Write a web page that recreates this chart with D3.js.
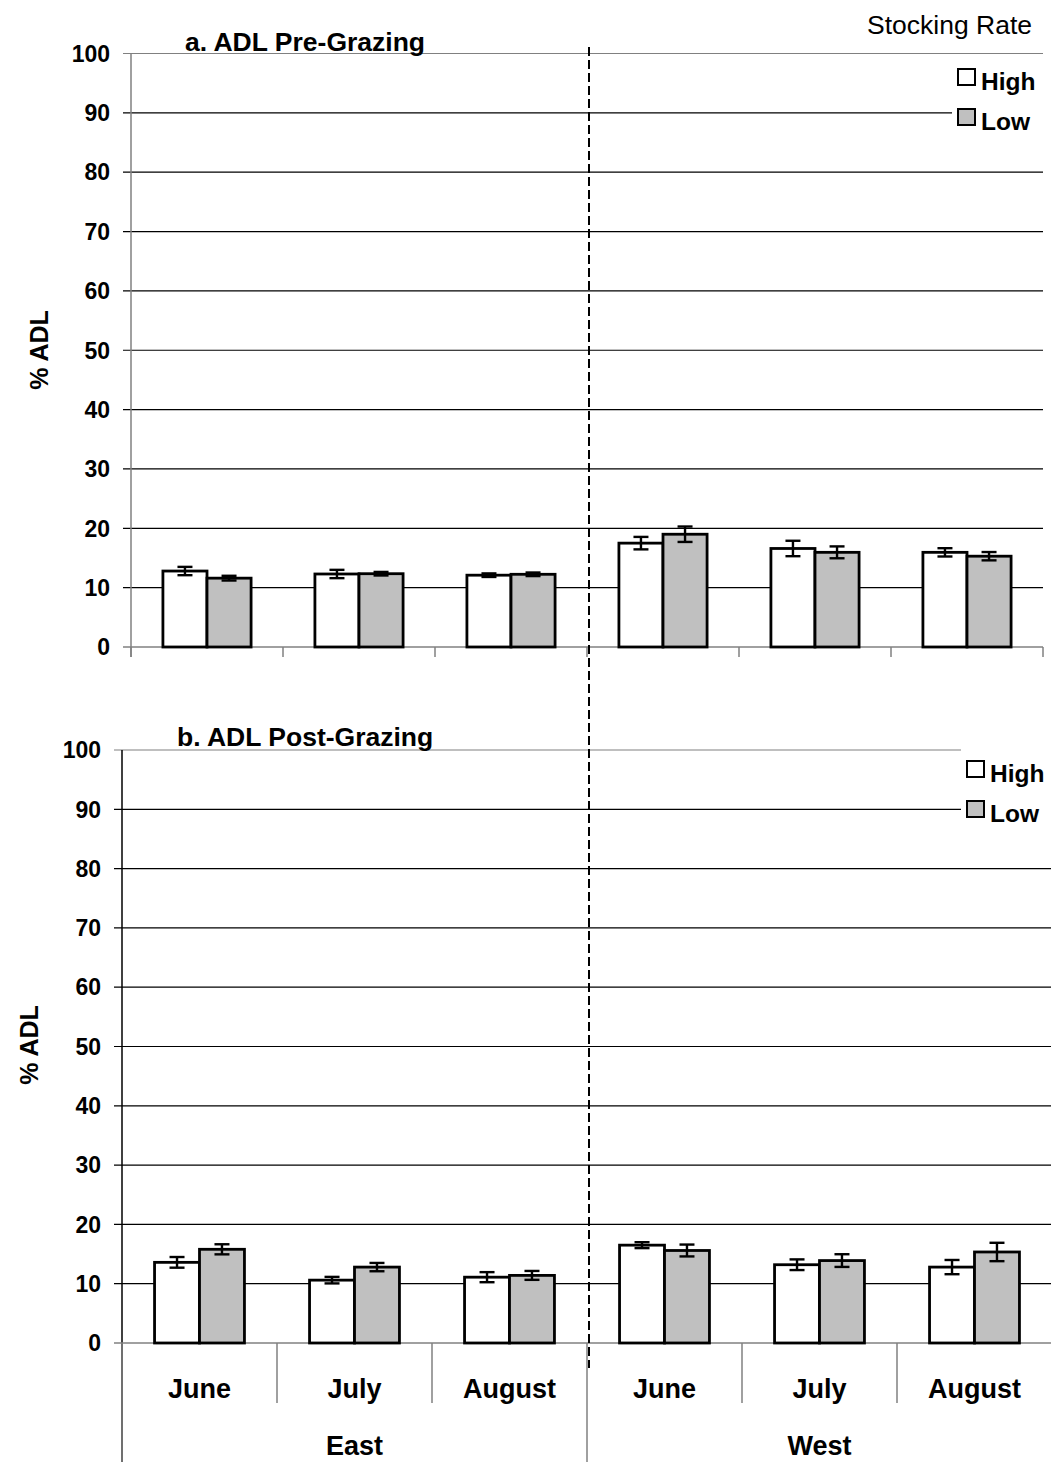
<!DOCTYPE html>
<html>
<head>
<meta charset="utf-8">
<script src="https://cdn.jsdelivr.net/npm/d3@7"></script>
<style>
  body { margin: 0; background: #fff; }
  text { font-family: "Liberation Sans", Arial, sans-serif; }
</style>
</head>
<body>
<div id="chart"></div>
<script>
// categories
var months = ["June", "July", "August"]
var sites = ["East", "West"]
var series = ["High", "Low"]
var yTicks = [0, 10, 20, 30, 40, 50, 60, 70, 80, 90, 100]

// a. pre-grazing (East June..August, West June..August)
var preHigh = [12.8, 12.3, 12.1, 17.5, 16.6, 15.95]
var preHighErr = [0.7, 0.7, 0.3, 1.05, 1.3, 0.7]
var preLow = [11.6, 12.35, 12.25, 19.0, 15.95, 15.3]
var preLowErr = [0.4, 0.3, 0.3, 1.3, 1.0, 0.7]

// b. post-grazing
var postHigh = [13.6, 10.6, 11.1, 16.5, 13.2, 12.8]
var postHighErr = [0.9, 0.55, 0.85, 0.5, 0.9, 1.2]
var postLow = [15.8, 12.8, 11.4, 15.6, 13.9, 15.35]
var postLowErr = [0.85, 0.7, 0.75, 1.0, 1.07, 1.55]

var W = 1051, H = 1462
var fills = {High: "#ffffff", Low: "#c0c0c0"}

var svg = d3.select("#chart").append("svg")
    .attr("width", W)
    .attr("height", H)

// categories East/June ... West/August
var cats = []
sites.forEach(function (s) {
    months.forEach(function (m) { cats.push(s + "|" + m) })
})

function drawPanel(p) {
    var y = d3.scaleLinear().domain([0, 100]).range([p.y0, p.y100])
    var x = d3.scaleBand().domain(cats).range([p.xl, p.xr])
        .paddingInner(0.42).paddingOuter(0.21)
    var xs = d3.scaleBand().domain(series).range([0, x.bandwidth()])

    var rows = cats.map(function (c, i) {
        return {
            cat: c,
            vals: [
                {s: "High", v: p.high[i], e: p.highErr[i]},
                {s: "Low", v: p.low[i], e: p.lowErr[i]}
            ]
        }
    })

    // gridlines
    svg.append("g").selectAll("line")
        .data(yTicks.filter(function (d) { return d > 0 }))
        .enter().append("line")
        .attr("x1", p.axisX - 8)
        .attr("x2", p.gridEnd)
        .attr("y1", function (d) { return y(d) })
        .attr("y2", function (d) { return y(d) })
        .attr("stroke", function (d) { return d == 100 ? "#808080" : "#000" })
        .attr("stroke-width", 1.2)

    // legend background hides the grid there
    svg.append("rect")
        .attr("x", p.legX - 6).attr("y", p.legBgY)
        .attr("width", W - p.legX + 6).attr("height", 85)
        .attr("fill", "#fff")

    // y tick labels
    svg.append("g").selectAll("text")
        .data(yTicks)
        .enter().append("text")
        .attr("x", p.labelX)
        .attr("y", function (d) { return y(d) })
        .attr("dy", "0.36em")
        .attr("text-anchor", "end")
        .attr("font-size", 23)
        .attr("font-weight", "bold")
        .text(function (d) { return d })

    // y axis line
    svg.append("line")
        .attr("x1", p.axisX).attr("x2", p.axisX)
        .attr("y1", y(100)).attr("y2", p.axisBottom)
        .attr("stroke", p.bottomAxis ? "#000" : "#808080")
        .attr("stroke-width", 1.5)
    // zero line
    svg.append("line")
        .attr("x1", p.axisX - 8).attr("x2", p.xr)
        .attr("y1", y(0)).attr("y2", y(0))
        .attr("stroke", "#808080").attr("stroke-width", 1.5)

    // bars
    var g = svg.append("g").selectAll("g")
        .data(rows).enter().append("g")
        .attr("transform", function (d) { return "translate(" + x(d.cat) + ",0)" })

    g.selectAll("rect").data(function (d) { return d.vals })
        .enter().append("rect")
        .attr("x", function (d) { return xs(d.s) })
        .attr("y", function (d) { return y(d.v) })
        .attr("width", xs.bandwidth())
        .attr("height", function (d) { return y(0) - y(d.v) })
        .attr("fill", function (d) { return fills[d.s] })
        .attr("stroke", "#000")
        .attr("stroke-width", 2.8)

    // error bars
    var eb = g.selectAll("g.err").data(function (d) { return d.vals })
        .enter().append("g").attr("class", "err")
        .attr("transform", function (d) { return "translate(" + (xs(d.s) + xs.bandwidth() / 2) + ",0)" })
    eb.append("line")
        .attr("x1", 0).attr("x2", 0)
        .attr("y1", function (d) { return y(d.v - d.e) })
        .attr("y2", function (d) { return y(d.v + d.e) })
        .attr("stroke", "#000").attr("stroke-width", 2.4)
    eb.selectAll("line.cap")
        .data(function (d) { return [d.v - d.e, d.v + d.e] })
        .enter().append("line").attr("class", "cap")
        .attr("x1", -7.5).attr("x2", 7.5)
        .attr("y1", function (d) { return y(d) })
        .attr("y2", function (d) { return y(d) })
        .attr("stroke", "#000").attr("stroke-width", 2.4)

    // title
    svg.append("text")
        .attr("x", p.titleX).attr("y", p.titleY)
        .attr("font-size", 26.5).attr("font-weight", "bold")
        .text(p.title)

    // y axis title
    svg.append("text")
        .attr("transform", "translate(" + p.yTitleX + "," + p.yTitleY + ") rotate(-90)")
        .attr("text-anchor", "middle")
        .attr("font-size", 25).attr("font-weight", "bold")
        .text("% ADL")

    // legend
    var leg = svg.append("g").selectAll("g").data(series).enter().append("g")
        .attr("transform", function (d, i) { return "translate(" + p.legX + "," + (p.legY + i * 40) + ")" })
    leg.append("rect")
        .attr("x", 0).attr("y", -16)
        .attr("width", 17).attr("height", 16)
        .attr("fill", function (d) { return fills[d] })
        .attr("stroke", "#000").attr("stroke-width", 2)
    leg.append("text")
        .attr("x", 23).attr("y", 5)
        .attr("font-size", 24.5).attr("font-weight", "bold")
        .text(function (d) { return d })

    if (!p.bottomAxis) {
        // small ticks between categories
        var edges = cats.map(function (c) { return x(c) - x.step() * 0.21 })
        edges.push(p.xr)
        svg.append("g").selectAll("line").data(edges).enter().append("line")
            .attr("x1", function (d) { return d }).attr("x2", function (d) { return d })
            .attr("y1", y(0)).attr("y2", y(0) + 10)
            .attr("stroke", "#808080").attr("stroke-width", 1.5)
    } else {
        // month separators and group separators
        var seps = cats.map(function (c, i) { return {x: x(c) - x.step() * 0.21, i: i} })
        svg.append("g").selectAll("line").data(seps).enter().append("line")
            .attr("x1", function (d) { return d.x }).attr("x2", function (d) { return d.x })
            .attr("y1", y(0))
            .attr("y2", function (d) { return d.i % 3 == 0 ? H : y(0) + 60 })
            .attr("stroke", "#808080").attr("stroke-width", 1.5)
        svg.append("g").selectAll("text").data(cats).enter().append("text")
            .attr("x", function (d) { return x(d) + x.bandwidth() / 2 })
            .attr("y", y(0) + 55)
            .attr("text-anchor", "middle")
            .attr("font-size", 27).attr("font-weight", "bold")
            .text(function (d) { return d.split("|")[1] })
        var gs = d3.scaleBand().domain(sites).range([p.xl, p.xr])
        svg.append("g").selectAll("text").data(sites).enter().append("text")
            .attr("x", function (d) { return gs(d) + gs.bandwidth() / 2 })
            .attr("y", y(0) + 112)
            .attr("text-anchor", "middle")
            .attr("font-size", 27).attr("font-weight", "bold")
            .text(function (d) { return d })
    }
}

drawPanel({
    title: "a. ADL Pre-Grazing", titleX: 185, titleY: 51,
    high: preHigh, highErr: preHighErr, low: preLow, lowErr: preLowErr,
    y0: 647, y100: 53.5, xl: 131, xr: 1043, axisX: 131, axisBottom: 657,
    gridEnd: 1043, labelX: 110, yTitleX: 48, yTitleY: 350,
    legX: 958, legY: 85, legBgY: 58, bottomAxis: false
})

drawPanel({
    title: "b. ADL Post-Grazing", titleX: 177, titleY: 746,
    high: postHigh, highErr: postHighErr, low: postLow, lowErr: postLowErr,
    y0: 1343, y100: 750, xl: 122, xr: 1052, axisX: 122, axisBottom: H,
    gridEnd: 1051, labelX: 101, yTitleX: 38, yTitleY: 1045,
    legX: 967, legY: 777, legBgY: 745, bottomAxis: true
})

svg.append("text")
    .attr("x", 1032).attr("y", 34)
    .attr("text-anchor", "end")
    .attr("font-size", 26.5)
    .text("Stocking Rate")

// dashed divider East | West
svg.append("line")
    .attr("x1", 589).attr("x2", 589)
    .attr("y1", 47).attr("y2", 1368)
    .attr("stroke", "#000")
    .attr("stroke-width", 2)
    .attr("stroke-dasharray", "9,4")
</script>
</body>
</html>
